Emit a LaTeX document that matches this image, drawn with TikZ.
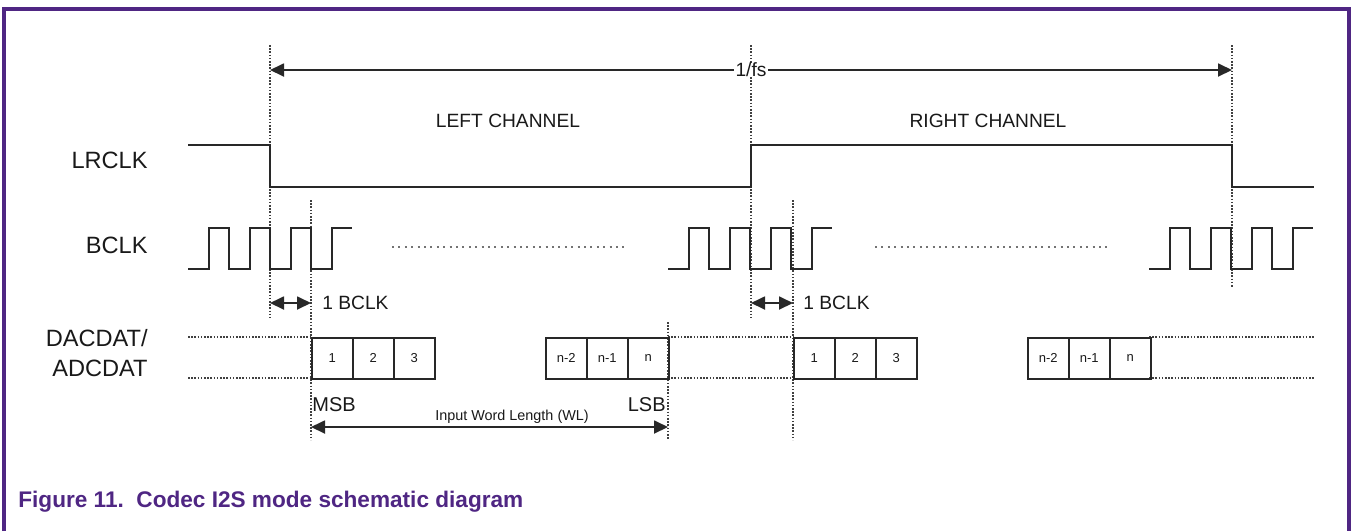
\documentclass[tikz,border=0pt]{standalone}
\usepackage{fontspec}
\setmainfont{Liberation Sans}
\usetikzlibrary{arrows.meta,positioning}
\definecolor{nxppurple}{RGB}{79,38,131}
\definecolor{wave}{RGB}{40,40,40}

\begin{document}
\begin{tikzpicture}[x=0.5pt,y=-0.5pt,
    every node/.style={inner sep=0pt, text=black!90},
    sig/.style={line width=1pt, wave},
    guide/.style={line width=0.9pt, black!75, dash pattern=on 0.8pt off 0.8pt},
    gapdots/.style={line width=1pt, black!55, dash pattern=on 1pt off 2.2pt},
    dim/.style={line width=0.9pt, wave, {Triangle[length=7pt,width=6.5pt]}-{Triangle[length=7pt,width=6.5pt]}},
    lbl/.style={font=\fontsize{11.8}{15}\selectfont},
    mid/.style={font=\fontsize{9.6}{11}\selectfont},
    bit/.style={draw=wave, line width=0.75pt, minimum width=20.5pt, minimum height=20.5pt,
      anchor=north west, font=\fontsize{6.5}{7}\selectfont}]
  \useasboundingbox (0,0) rectangle (1352,531);
  \draw[nxppurple, line width=1.6pt] (4,531) -- (4,9) -- (1349,9) -- (1349,531);

  \node[lbl, anchor=east] (lrclk) at (148,160) {LRCLK};
  \node[lbl, anchor=east] (bclk) at (148,245) {BCLK};
  \node[lbl, anchor=east, align=right] (dat) at (148,353) {DACDAT/\\ADCDAT};

  \foreach \x/\a/\b in {270/45/318, 311/200/440, 751/45/318, 793/200/440, 1232/45/288, 668/322/440}
    \draw[guide] (\x,\a) -- (\x,\b);
  \foreach \a/\b in {188/311, 668/793, 1149/1314} {
    \draw[guide] (\a,337) -- (\b,337);
    \draw[guide] (\a,378) -- (\b,378);
  }
  \draw[gapdots] (392,247) -- (625,247);
  \draw[gapdots] (875,247) -- (1107,247);

  \coordinate (fsstart) at (270,70);
  \coordinate (fsend) at (1232,70);
  \draw[dim] (fsstart) -- node[mid, fill=white, inner xsep=1pt, name=fs] {1/fs} (fsend);
  \node[mid] (leftch) at (508,121) {LEFT CHANNEL};
  \node[mid] (rightch) at (988,121) {RIGHT CHANNEL};

  \draw[sig] (188,145) -- (270,145) -- (270,187) -- (751,187) -- (751,145)
    -- (1232,145) -- (1232,187) -- (1314,187);
  \foreach \s in {188,668,1149}
    \draw[sig] (\s,269) -| ++(20.5,-41) -| ++(20.5,41) -| ++(20.5,-41) -| ++(20.5,41)
      -| ++(20.5,-41) -| ++(20.5,41) -| ++(20.5,-41) -- ++(20.5,0);

  \coordinate (lbclka) at (270,303);
  \coordinate (lbclkb) at (311,303);
  \draw[dim] (lbclka) -- (lbclkb);
  \node[mid, right=5.5pt of lbclkb] (lbclk) {1 BCLK};
  \coordinate (rbclka) at (751,303);
  \coordinate (rbclkb) at (793,303);
  \draw[dim] (rbclka) -- (rbclkb);
  \node[mid, right=5pt of rbclkb] (rbclk) {1 BCLK};

  \foreach \x/\t [count=\i] in {311/1, 352/2, 393/3, 545/n-2, 586/n-1, 627/n} {
    \node[bit] (lbit\i) at (\x,337) {\t};
    \node[bit] (rbit\i) at (\x+482,337) {\t};
  }

  \node[mid, font=\fontsize{10}{12}\selectfont, anchor=west] (msb) at (312,405) {MSB};
  \node[mid, font=\fontsize{10}{12}\selectfont, anchor=east] (lsb) at (666,405) {LSB};
  \node[font=\fontsize{7.2}{9}\selectfont] (wl) at (512,417) {Input Word Length (WL)};
  \coordinate (wlstart) at (311,427);
  \coordinate (wlend) at (668,427);
  \draw[dim] (wlstart) -- (wlend);

  \node[anchor=west, text=nxppurple, font=\bfseries\fontsize{11.3}{13}\selectfont] (caption)
    at (18,502) {Figure 11.\ \ Codec I2S mode schematic diagram};
\end{tikzpicture}
\end{document}
